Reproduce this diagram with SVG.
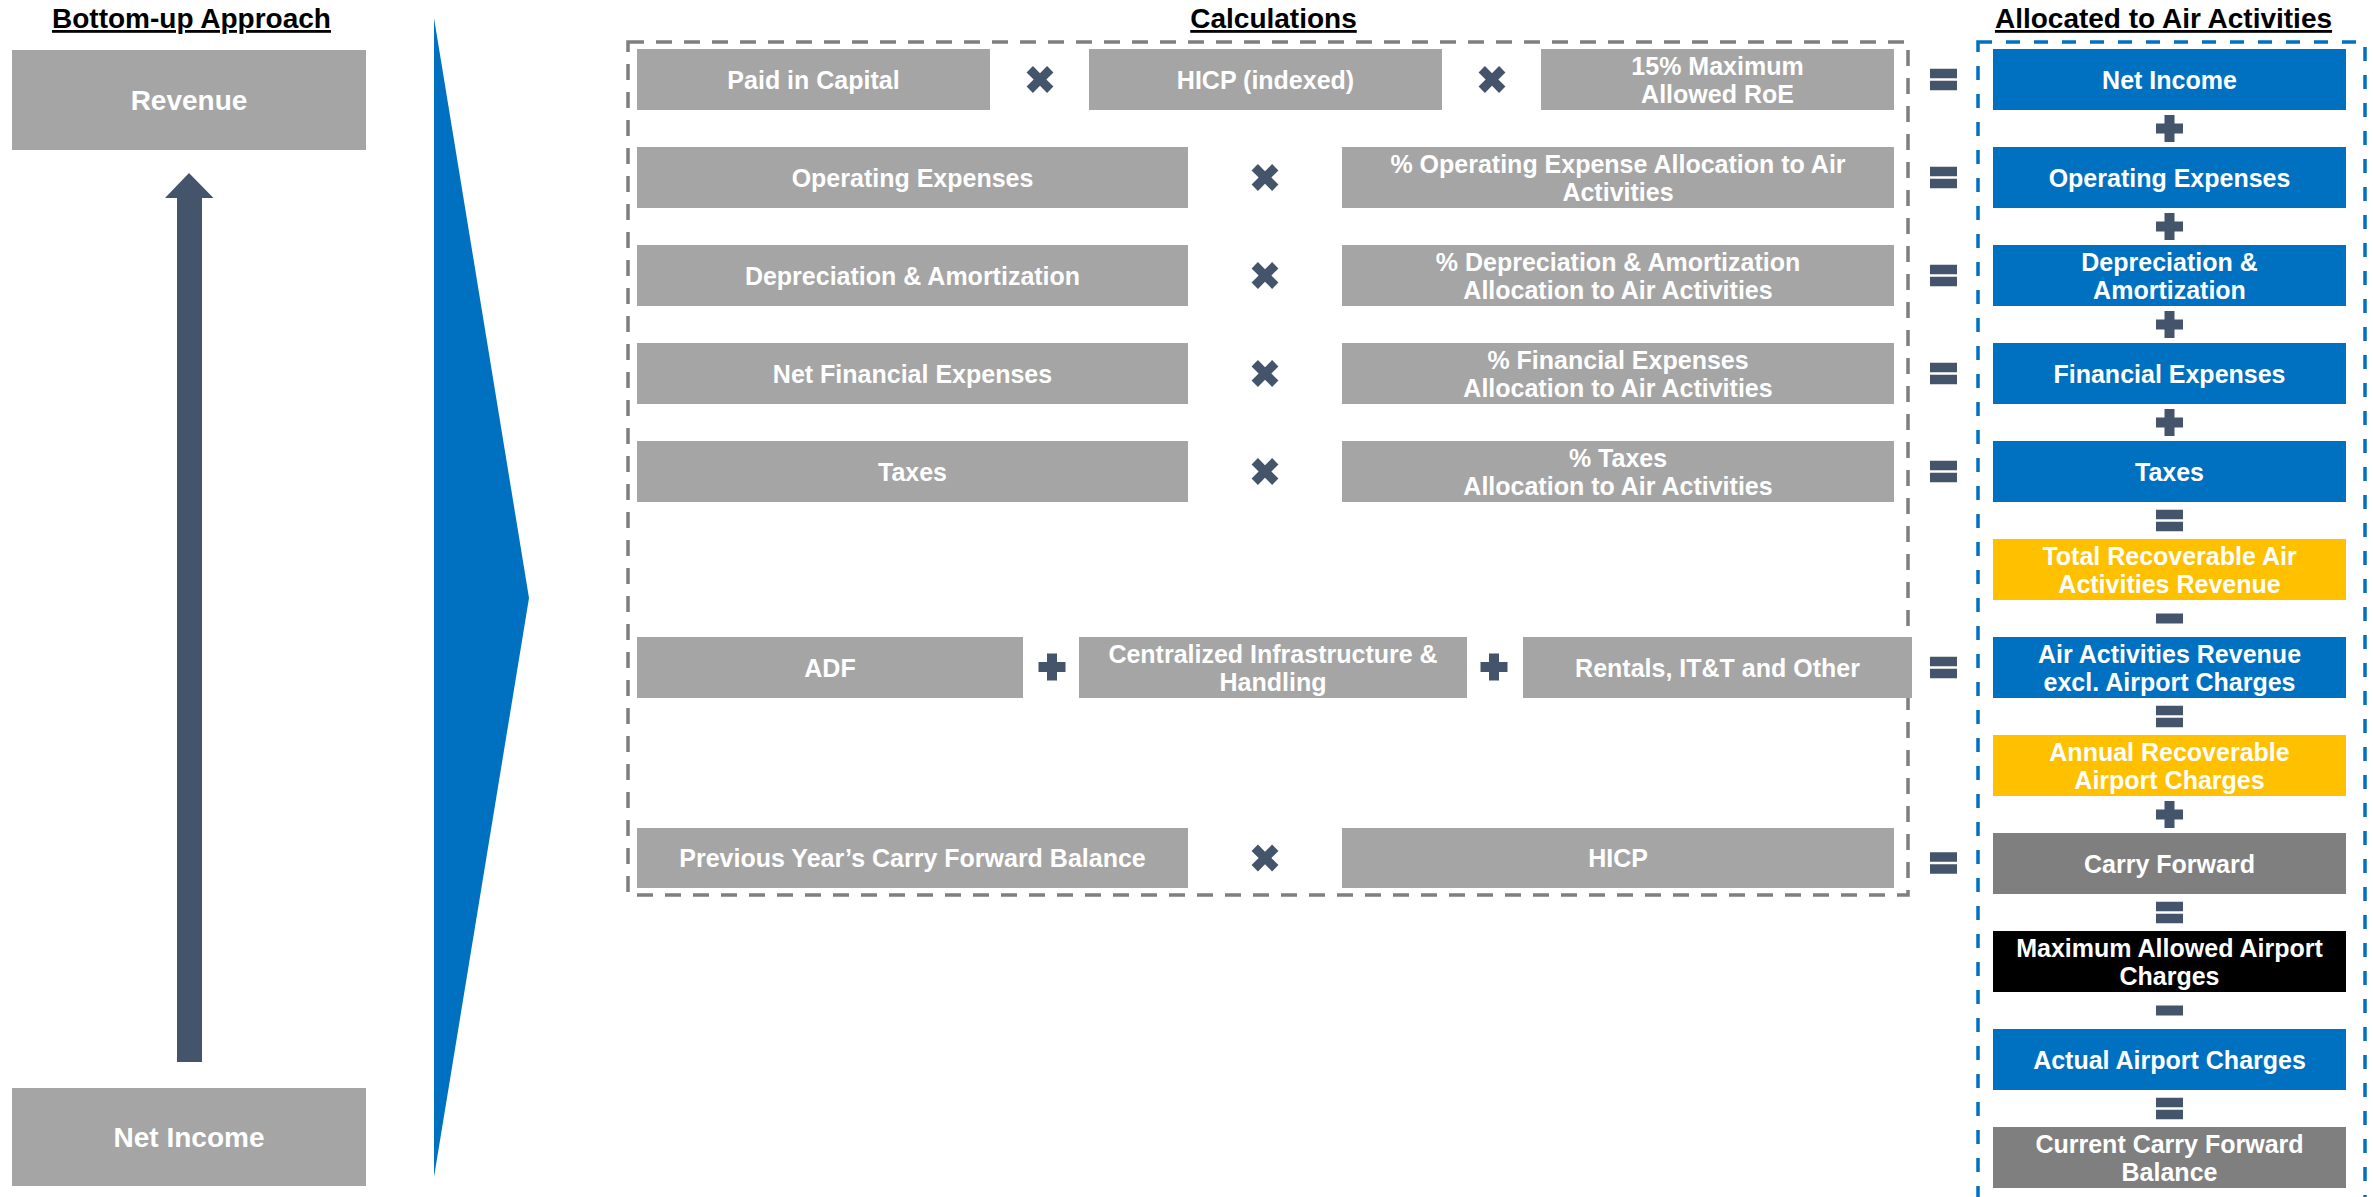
<svg xmlns="http://www.w3.org/2000/svg" xmlns:xlink="http://www.w3.org/1999/xlink" width="2373" height="1197" viewBox="0 0 2373 1197">
<style>
.t{font-family:"Liberation Sans",Arial,sans-serif;font-weight:bold;fill:#fff;font-size:25px;text-anchor:middle}
.tl{font-size:28px}
.h{font-family:"Liberation Sans",Arial,sans-serif;font-weight:bold;fill:#000;font-size:28px;text-anchor:middle;text-decoration:underline}
.g{fill:#A5A5A5}
.b{fill:#0070C0}
.y{fill:#FFC000}
.d{fill:#7F7F7F}
.k{fill:#000}
.op{fill:#44546A}
</style>
<defs>
<polygon id="op-times" class="op" points="-7.07,-13.44 0,-6.36 7.07,-13.44 13.44,-7.07 6.36,0 13.44,7.07 7.07,13.44 0,6.36 -7.07,13.44 -13.44,7.07 -6.36,0 -13.44,-7.07"/>
<polygon id="op-plus" class="op" points="-5,-13.5 5,-13.5 5,-5 13.5,-5 13.5,5 5,5 5,13.5 -5,13.5 -5,5 -13.5,5 -13.5,-5 -5,-5"/>
<g id="op-eq" class="op"><rect x="-13.5" y="-10.75" width="27" height="9.5"/><rect x="-13.5" y="1.25" width="27" height="9.5"/></g>
<rect id="op-minus" class="op" x="-13.5" y="-5" width="27" height="10"/>
</defs>

<!-- Titles -->
<text class="h" x="191.5" y="28">Bottom-up Approach</text>
<text class="h" x="1273.5" y="28">Calculations</text>
<text class="h" x="2163.5" y="28">Allocated to Air Activities</text>

<!-- Left column -->
<g id="revenue"><rect class="g" x="12" y="50" width="354" height="100"/><text class="t tl" x="189" y="110">Revenue</text></g>
<g id="net-income-left"><rect class="g" x="12" y="1088" width="354" height="98"/><text class="t tl" x="189" y="1147">Net Income</text></g>
<g id="bottom-up-arrow"><polygon class="op" points="189,173 213.5,198 202,198 202,1062 177,1062 177,198 165,198"/></g>

<!-- Big chevron -->
<g id="chevron"><polygon fill="#0070C0" points="434,18 529,598 434,1177"/></g>

<!-- Frames -->
<rect x="628" y="42" width="1280" height="853" fill="none" stroke="#7F7F7F" stroke-width="3.5" stroke-dasharray="16 12"/>
<rect x="1978" y="42" width="387" height="1200" fill="none" stroke="#0070C0" stroke-width="3.5" stroke-dasharray="14 14"/>

<!-- Calculation rows -->
<g id="calc-row1">
<rect class="g" x="637" y="49" width="353" height="61"/><text class="t" x="813.5" y="88.5">Paid in Capital</text>
<rect class="g" x="1089" y="49" width="353" height="61"/><text class="t" x="1265.5" y="88.5">HICP (indexed)</text>
<rect class="g" x="1541" y="49" width="353" height="61"/><text class="t" x="1717.5" y="74.5">15% Maximum</text><text class="t" x="1717.5" y="102.5">Allowed RoE</text>
</g>
<g id="calc-row2">
<rect class="g" x="637" y="147" width="551" height="61"/><text class="t" x="912.5" y="186.5">Operating Expenses</text>
<rect class="g" x="1342" y="147" width="552" height="61"/><text class="t" x="1618" y="172.5">% Operating Expense Allocation to Air</text><text class="t" x="1618" y="200.5">Activities</text>
</g>
<g id="calc-row3">
<rect class="g" x="637" y="245" width="551" height="61"/><text class="t" x="912.5" y="284.5">Depreciation &amp; Amortization</text>
<rect class="g" x="1342" y="245" width="552" height="61"/><text class="t" x="1618" y="270.5">% Depreciation &amp; Amortization</text><text class="t" x="1618" y="298.5">Allocation to Air Activities</text>
</g>
<g id="calc-row4">
<rect class="g" x="637" y="343" width="551" height="61"/><text class="t" x="912.5" y="382.5">Net Financial Expenses</text>
<rect class="g" x="1342" y="343" width="552" height="61"/><text class="t" x="1618" y="368.5">% Financial Expenses</text><text class="t" x="1618" y="396.5">Allocation to Air Activities</text>
</g>
<g id="calc-row5">
<rect class="g" x="637" y="441" width="551" height="61"/><text class="t" x="912.5" y="480.5">Taxes</text>
<rect class="g" x="1342" y="441" width="552" height="61"/><text class="t" x="1618" y="466.5">% Taxes</text><text class="t" x="1618" y="494.5">Allocation to Air Activities</text>
</g>
<g id="calc-row7">
<rect class="g" x="637" y="637" width="386" height="61"/><text class="t" x="830" y="676.5">ADF</text>
<rect class="g" x="1079" y="637" width="388" height="61"/><text class="t" x="1273" y="662.5">Centralized Infrastructure &amp;</text><text class="t" x="1273" y="690.5">Handling</text>
<rect class="g" x="1523" y="637" width="389" height="61"/><text class="t" x="1717.5" y="676.5">Rentals, IT&amp;T and Other</text>
</g>
<g id="calc-row9">
<rect class="g" x="637" y="828" width="551" height="60"/><text class="t" x="912.5" y="867">Previous Year’s Carry Forward Balance</text>
<rect class="g" x="1342" y="828" width="552" height="60"/><text class="t" x="1618" y="867">HICP</text>
</g>

<!-- Allocated column -->
<g id="alloc-net-income"><rect class="b" x="1993" y="49" width="353" height="61"/><text class="t" x="2169.5" y="88.5">Net Income</text></g>
<g id="alloc-opex"><rect class="b" x="1993" y="147" width="353" height="61"/><text class="t" x="2169.5" y="186.5">Operating Expenses</text></g>
<g id="alloc-da"><rect class="b" x="1993" y="245" width="353" height="61"/><text class="t" x="2169.5" y="270.5">Depreciation &amp;</text><text class="t" x="2169.5" y="298.5">Amortization</text></g>
<g id="alloc-finexp"><rect class="b" x="1993" y="343" width="353" height="61"/><text class="t" x="2169.5" y="382.5">Financial Expenses</text></g>
<g id="alloc-taxes"><rect class="b" x="1993" y="441" width="353" height="61"/><text class="t" x="2169.5" y="480.5">Taxes</text></g>
<g id="alloc-total-rec"><rect class="y" x="1993" y="539" width="353" height="61"/><text class="t" x="2169.5" y="564.5">Total Recoverable Air</text><text class="t" x="2169.5" y="592.5">Activities Revenue</text></g>
<g id="alloc-air-rev"><rect class="b" x="1993" y="637" width="353" height="61"/><text class="t" x="2169.5" y="662.5">Air Activities Revenue</text><text class="t" x="2169.5" y="690.5">excl. Airport Charges</text></g>
<g id="alloc-annual-rec"><rect class="y" x="1993" y="735" width="353" height="61"/><text class="t" x="2169.5" y="760.5">Annual Recoverable</text><text class="t" x="2169.5" y="788.5">Airport Charges</text></g>
<g id="alloc-carry"><rect class="d" x="1993" y="833" width="353" height="61"/><text class="t" x="2169.5" y="872.5">Carry Forward</text></g>
<g id="alloc-max"><rect class="k" x="1993" y="931" width="353" height="61"/><text class="t" x="2169.5" y="956.5">Maximum Allowed Airport</text><text class="t" x="2169.5" y="984.5">Charges</text></g>
<g id="alloc-actual"><rect class="b" x="1993" y="1029" width="353" height="61"/><text class="t" x="2169.5" y="1068.5">Actual Airport Charges</text></g>
<g id="alloc-current"><rect class="d" x="1993" y="1127" width="353" height="61"/><text class="t" x="2169.5" y="1152.5">Current Carry Forward</text><text class="t" x="2169.5" y="1180.5">Balance</text></g>

<!-- Operators -->
<g id="connectors">
<use xlink:href="#op-times" x="1040" y="79.5"/>
<use xlink:href="#op-times" x="1492" y="79.5"/>
<use xlink:href="#op-times" x="1265" y="177.5"/>
<use xlink:href="#op-times" x="1265" y="275.5"/>
<use xlink:href="#op-times" x="1265" y="373.5"/>
<use xlink:href="#op-times" x="1265" y="471.5"/>
<use xlink:href="#op-plus" x="1052" y="667"/>
<use xlink:href="#op-plus" x="1494" y="667"/>
<use xlink:href="#op-times" x="1265" y="858"/>
<use xlink:href="#op-eq" x="1943.5" y="79.5"/>
<use xlink:href="#op-eq" x="1943.5" y="177.5"/>
<use xlink:href="#op-eq" x="1943.5" y="275.5"/>
<use xlink:href="#op-eq" x="1943.5" y="373.5"/>
<use xlink:href="#op-eq" x="1943.5" y="471.5"/>
<use xlink:href="#op-eq" x="1943.5" y="667.5"/>
<use xlink:href="#op-eq" x="1943.5" y="863"/>
<use xlink:href="#op-plus" x="2169.5" y="128.5"/>
<use xlink:href="#op-plus" x="2169.5" y="226.5"/>
<use xlink:href="#op-plus" x="2169.5" y="324.5"/>
<use xlink:href="#op-plus" x="2169.5" y="422.5"/>
<use xlink:href="#op-eq" x="2169.5" y="520.5"/>
<use xlink:href="#op-minus" x="2169.5" y="618.5"/>
<use xlink:href="#op-eq" x="2169.5" y="716.5"/>
<use xlink:href="#op-plus" x="2169.5" y="814.5"/>
<use xlink:href="#op-eq" x="2169.5" y="912.5"/>
<use xlink:href="#op-minus" x="2169.5" y="1010.5"/>
<use xlink:href="#op-eq" x="2169.5" y="1108.5"/>
</g>
</svg>
